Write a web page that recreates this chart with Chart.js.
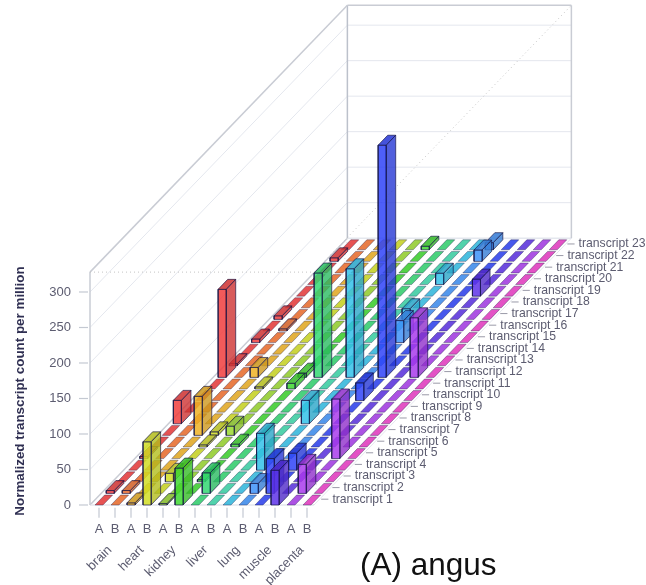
<!DOCTYPE html>
<html>
<head>
<meta charset="utf-8">
<style>
html, body { margin: 0; padding: 0; background: #fff; }
canvas { display: block; filter: blur(0.5px); }
</style>
<script src="https://cdn.jsdelivr.net/npm/chart.js@4"></script>
</head>
<body>
<canvas id="myChart" width="646" height="585"></canvas>
<script>
var tissues = ['brain', 'heart', 'kidney', 'liver', 'lung', 'muscle', 'placenta'];
var samples = ['A', 'B', 'A', 'B', 'A', 'B', 'A', 'B', 'A', 'B', 'A', 'B', 'A', 'B'];
var transcripts = [];
for (var n = 1; n <= 23; n++) transcripts.push('transcript ' + n);
var yTicks = [0, 50, 100, 150, 200, 250, 300];

// one array per sample, index = transcript - 1
var brainA    = [0, 4, 0, 0, 3, 0, 0, 33, 0, 0, 0, 124, 3, 0, 5, 0, 5, 0, 0, 0, 0, 5, 0];
var brainB    = [0, 4, 0, 0, 0, 0, 0, 0, 0, 0, 0, 0, 0, 0, 0, 3, 0, 0, 0, 0, 0, 0, 0];
var heartA    = [3, 0, 0, 0, 0, 0, 55, 0, 0, 0, 0, 14, 0, 0, 0, 0, 0, 0, 0, 0, 0, 0, 0];
var heartB    = [89, 0, 12, 0, 0, 3, 5, 0, 0, 0, 3, 0, 0, 0, 0, 0, 0, 0, 0, 0, 0, 0, 0];
var kidneyA   = [2, 0, 0, 0, 0, 0, 13, 0, 0, 0, 0, 0, 0, 0, 0, 0, 0, 0, 0, 0, 0, 0, 0];
var kidneyB   = [52, 0, 3, 0, 0, 4, 0, 0, 0, 0, 8, 6, 0, 0, 0, 0, 0, 0, 0, 0, 0, 0, 5];
var liverA    = [0, 29, 0, 0, 0, 0, 0, 0, 0, 0, 0, 147, 0, 0, 0, 0, 0, 0, 0, 0, 0, 0, 0];
var liverB    = [0, 0, 0, 0, 0, 0, 0, 0, 0, 0, 0, 0, 0, 0, 0, 0, 0, 0, 0, 0, 0, 0, 0];
var lungA     = [0, 0, 0, 52, 0, 0, 0, 33, 0, 0, 0, 153, 0, 0, 0, 0, 15, 0, 0, 16, 0, 0, 0];
var lungB     = [0, 14, 0, 0, 0, 0, 0, 0, 0, 0, 0, 0, 0, 0, 31, 0, 0, 0, 0, 0, 0, 16, 10];
var muscleA   = [0, 49, 0, 24, 0, 0, 0, 0, 0, 25, 0, 327, 0, 0, 0, 0, 0, 0, 0, 0, 0, 0, 0];
var muscleB   = [49, 0, 0, 0, 0, 0, 0, 0, 0, 0, 0, 0, 0, 0, 0, 0, 0, 0, 24, 0, 0, 0, 0];
var placentaA = [0, 41, 0, 0, 84, 0, 0, 0, 0, 0, 0, 84, 0, 0, 0, 0, 0, 0, 0, 0, 0, 0, 0];
var placentaB = [0, 0, 0, 0, 0, 0, 0, 0, 0, 0, 0, 0, 0, 0, 0, 0, 0, 0, 0, 0, 0, 0, 0];
var columns = [brainA, brainB, heartA, heartB, kidneyA, kidneyB, liverA, liverB,
               lungA, lungB, muscleA, muscleB, placentaA, placentaB];

var colors = ['#f03a3a', '#f4702c', '#eeb020', '#d0dc20', '#98d82c', '#3cd82c', '#30d870',
              '#38d8a8', '#30c0e8', '#3c90f8', '#2c40f8', '#5c30e8', '#a838ec', '#ec38c8'];

// oblique projection of the 3d box on the two flat scales
var kx = 0.6994, ky = 16.34;
var barW = 0.5, barD = 0.86;
var colMin = -0.5625, colMax = 13.4375, rows = 23, top3d = 328;
function project(c, r, v) {
    return {x: c + r * kx, y: v + r * ky};
}

function shade(hex, f, a) {
    var r = parseInt(hex.substr(1, 2), 16), g = parseInt(hex.substr(3, 2), 16), b = parseInt(hex.substr(5, 2), 16);
    return 'rgba(' + Math.round(r * f) + ',' + Math.round(g * f) + ',' + Math.round(b * f) + ',' + a + ')';
}

var layers = [];
function wire(from, to, color, width, dash) {
    layers.push({
        data: [from, to], showLine: true, pointRadius: 0, borderColor: color,
        borderWidth: width, borderDash: dash || [], fill: false
    });
}
function face(points, fillColor, edge, edgeWidth) {
    points.push(points[0]);
    layers.push({
        data: points, showLine: true, pointRadius: 0, fill: 'shape', tension: 0,
        backgroundColor: fillColor, borderColor: edge, borderWidth: edgeWidth
    });
}

var gridColor = '#e4e7ee', frameColor = '#c9ccd4', tickColor = '#c4c9d2';
yTicks.slice(1).forEach(function(v) {
    wire(project(colMin, 0, v), project(colMin, rows, v), gridColor, 1);
    wire(project(colMin, rows, v), project(colMax, rows, v), gridColor, 1);
});
wire(project(colMin, 0, 0), project(colMin, rows, 0), frameColor, 1.5);
wire(project(colMin, 0, 0), project(colMax, 0, 0), gridColor, 1.5);
wire(project(colMax, 0, 0), project(colMax, rows, 0), gridColor, 1);
wire(project(colMin, rows, 0), project(colMax, rows, 0), gridColor, 1.5);
wire(project(colMin, 0, 0), project(colMin, 0, top3d), frameColor, 1.5);
wire(project(colMin, rows, 0), project(colMin, rows, top3d), '#bcc1cb', 1.5);
wire(project(colMax, rows, 0), project(colMax, rows, top3d), frameColor, 1.5);
wire(project(colMin, 0, top3d), project(colMin, rows, top3d), frameColor, 1.5);
wire(project(colMin, rows, top3d), project(colMax, rows, top3d), frameColor, 1.5);
wire(project(colMin, 0, top3d), project(colMax, 0, top3d), '#c4c4c4', 1, [1, 3]);
wire(project(colMax, 0, top3d), project(colMax, rows, top3d), '#c4c4c4', 1, [1, 3]);
wire(project(colMin, rows, 0), project(colMax, 0, 0), '#dddddd', 1, [1, 3]);

// tick marks of the three axes
yTicks.forEach(function(v) {
    wire(project(-1.25, 0, v), project(-0.6875, 0, v), tickColor, 1.2);
});
samples.forEach(function(s, i) {
    wire(project(i, 0, -4), project(i, 0, -18), tickColor, 1.2);
});
for (var r = 0; r < rows; r++) {
    wire(project(colMax + 0.1, r + 0.5, 0), project(colMax + 0.55, r + 0.5, 0), '#9a9aa8', 1);
}

// back to front, left to right
for (var r = rows - 1; r >= 0; r--) {
    for (var c = 0; c < columns.length; c++) {
        var v = columns[c][r];
        var x0 = c - barW / 2, x1 = c + barW / 2, r1 = r + barD;
        var edge = 'rgba(22,22,70,0.66)';
        if (v > 0) {
            face([project(x1, r, 0), project(x1, r1, 0), project(x1, r1, v), project(x1, r, v)], shade(colors[c], 0.86, 0.8), edge, 1);
            face([project(x0, r, 0), project(x1, r, 0), project(x1, r, v), project(x0, r, v)], shade(colors[c], 1, 0.84), edge, 1);
            face([project(x0, r, v), project(x1, r, v), project(x1, r1, v), project(x0, r1, v)], shade(colors[c], 0.86, 0.86), edge, 1);
        } else {
            face([project(x0, r, 0), project(x1, r, 0), project(x1, r1, 0), project(x0, r1, 0)], shade(colors[c], 0.94, 0.86), 'rgba(22,22,70,0.45)', 0.8);
        }
    }
}

var labelPlugin = {
    id: 'labels3d',
    afterDraw: function(chart) {
        var ctx = chart.ctx, sx = chart.scales.x, sy = chart.scales.y;
        ctx.save();
        ctx.fillStyle = '#5c5c70';
        ctx.font = '12.2px "Liberation Sans"';
        ctx.textAlign = 'left';
        ctx.textBaseline = 'middle';
        transcripts.forEach(function(name, i) {
            var p = project(colMax + 0.8, i + 0.5, 0);
            ctx.fillText(name, sx.getPixelForValue(p.x), sy.getPixelForValue(p.y));
        });
        ctx.textAlign = 'right';
        ctx.font = '13px "Liberation Sans"';
        tissues.forEach(function(name, i) {
            ctx.save();
            ctx.translate(sx.getPixelForValue(2 * i + 0.68), 548);
            ctx.rotate(-Math.PI / 4);
            ctx.fillText(name, 0, 0);
            ctx.restore();
        });
        ctx.save();
        ctx.translate(20, 391);
        ctx.rotate(-Math.PI / 2);
        ctx.textAlign = 'center';
        ctx.fillStyle = '#2f2f52';
        ctx.font = 'bold 13.4px "Liberation Sans"';
        ctx.fillText('Normalized transcript count per million', 0, 0);
        ctx.restore();
        ctx.fillStyle = '#111111';
        ctx.textAlign = 'left';
        ctx.textBaseline = 'alphabetic';
        ctx.font = '31.5px "Liberation Sans"';
        ctx.fillText('(A) angus', 360, 575);
        ctx.restore();
    }
};

var ctx = document.getElementById('myChart').getContext('2d');
var chart = new Chart(ctx, {
    type: 'scatter',
    data: {datasets: layers.reverse()},
    plugins: [labelPlugin],
    options: {
        responsive: false,
        animation: false,
        devicePixelRatio: 1,
        layout: {padding: 0},
        events: [],
        plugins: {legend: {display: false}, tooltip: {enabled: false}},
        scales: {
            x: {
                type: 'linear', min: -6.1875, max: 34.1875,
                position: {y: -4},
                afterBuildTicks: function(s) {
                    s.ticks = samples.map(function(t, i) { return {value: i}; });
                },
                afterFit: function(s) {
                    s.height = 0; s.paddingLeft = 0; s.paddingRight = 0;
                },
                ticks: {
                    autoSkip: false, maxRotation: 0, padding: 4, color: '#5c5c70',
                    font: {size: 13, family: 'Liberation Sans'},
                    callback: function(value) { return samples[value]; }
                },
                grid: {display: false, tickLength: 10},
                border: {display: false}
            },
            y: {
                type: 'linear', min: -112.68, max: 711.27,
                position: {x: -1.75},
                afterBuildTicks: function(s) {
                    s.ticks = yTicks.map(function(t) { return {value: t}; });
                },
                afterFit: function(s) {
                    s.width = 0; s.paddingTop = 0; s.paddingBottom = 0;
                },
                ticks: {
                    color: '#5c5c70',
                    font: {size: 13, family: 'Liberation Sans'}
                },
                grid: {display: false},
                border: {display: false}
            }
        }
    }
});
</script>
</body>
</html>
